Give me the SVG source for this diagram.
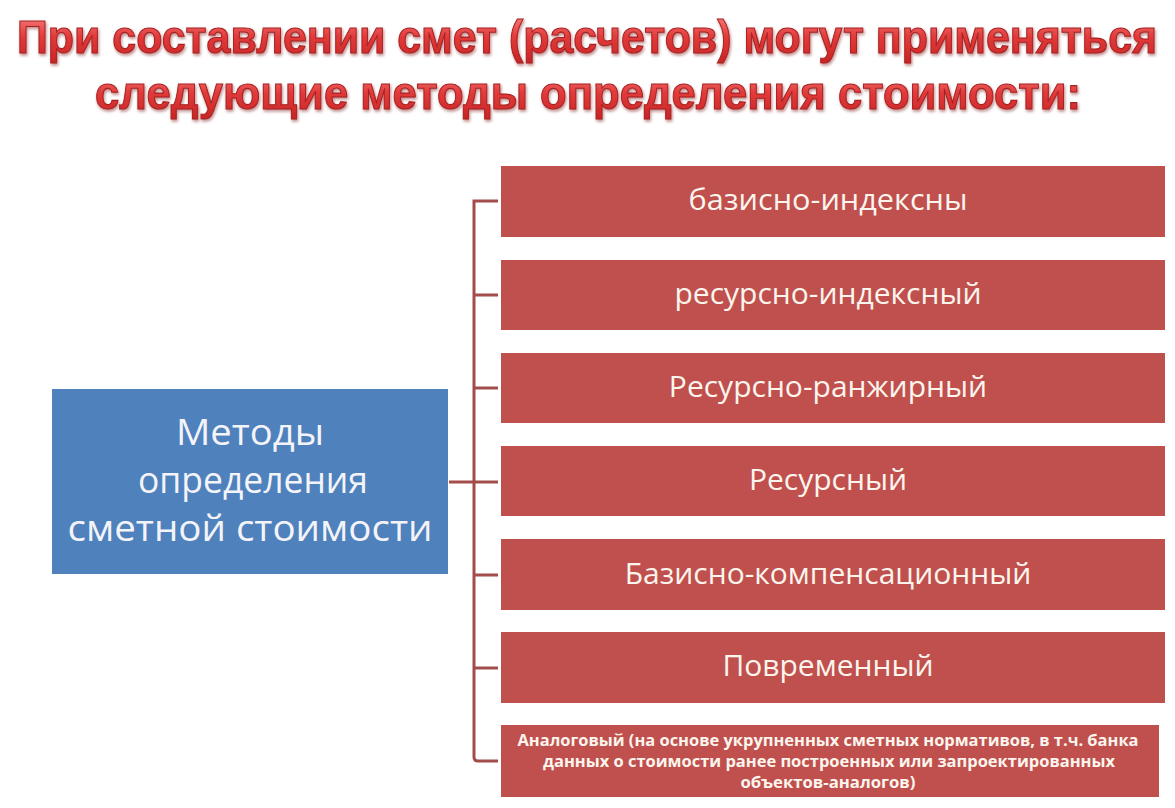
<svg xmlns="http://www.w3.org/2000/svg" width="1175" height="808" viewBox="0 0 1175 808">
<style>
.title{font-family:"Liberation Sans",Arial,sans-serif;font-weight:bold;font-size:39px;fill:url(#tg);stroke:#a82222;stroke-width:0.9;text-anchor:middle}
.rb{fill:#c0504d}
.bb{fill:#4f81bd}
.rt{font-family:"Open Sans","Liberation Sans",sans-serif;font-size:30px;fill:#fbf5ee;text-anchor:middle}
.bt{font-family:"Open Sans","Liberation Sans",sans-serif;font-size:37px;fill:#f4f4f8;text-anchor:middle}
.st{font-family:"Open Sans","Liberation Sans",sans-serif;font-weight:bold;font-size:16px;fill:#fbf5ee;text-anchor:middle}
.cn{stroke:#a34d4b;stroke-width:3;fill:none}
</style>
<defs>
<linearGradient id="tg" x1="0" y1="0" x2="0" y2="1">
<stop offset="0" stop-color="#f78a8a"/>
<stop offset="0.5" stop-color="#e23a3a"/>
<stop offset="1" stop-color="#c82424"/>
</linearGradient>
<filter id="sh" filterUnits="userSpaceOnUse" x="0" y="0" width="1175" height="140">
<feDropShadow dx="1" dy="2" stdDeviation="1.5" flood-color="#7a1010" flood-opacity="0.5"/>
</filter>
</defs>
<rect width="1175" height="808" fill="#ffffff"/>
<g id="title" filter="url(#sh)">
<g transform="translate(587,53) scale(1,1.18)"><text class="title" x="0" y="0" textLength="1140" lengthAdjust="spacingAndGlyphs">При составлении смет (расчетов) могут применяться</text></g>
<g transform="translate(588,109) scale(1,1.18)"><text class="title" x="0" y="0" textLength="986" lengthAdjust="spacingAndGlyphs">следующие методы определения стоимости:</text></g>
</g>
<g id="connectors">
<path class="cn" d="M449 482 H498"/>
<path class="cn" d="M498 201 H474 V757 Q474 761 478 761 H498"/>
<path class="cn" d="M474 295 H498 M474 388 H498 M474 575 H498 M474 668 H498"/>
</g>
<g id="root">
<rect class="bb" x="52" y="389" width="396" height="185"/>
<text class="bt" x="250" y="445" textLength="148" lengthAdjust="spacingAndGlyphs">Методы</text>
<text class="bt" x="253" y="493" textLength="230" lengthAdjust="spacingAndGlyphs">определения</text>
<text class="bt" x="250" y="541" textLength="365" lengthAdjust="spacingAndGlyphs">сметной стоимости</text>
</g>
<g id="m1"><rect class="rb" x="501" y="166" width="664" height="71"/><text class="rt" x="828" y="210" textLength="279" lengthAdjust="spacingAndGlyphs">базисно-индексны</text></g>
<g id="m2"><rect class="rb" x="501" y="260" width="664" height="70"/><text class="rt" x="828" y="304">ресурсно-индексный</text></g>
<g id="m3"><rect class="rb" x="501" y="353" width="664" height="70"/><text class="rt" x="828" y="397">Ресурсно-ранжирный</text></g>
<g id="m4"><rect class="rb" x="501" y="446" width="664" height="70"/><text class="rt" x="828" y="490">Ресурсный</text></g>
<g id="m5"><rect class="rb" x="501" y="539" width="664" height="71"/><text class="rt" x="828" y="584">Базисно-компенсационный</text></g>
<g id="m6"><rect class="rb" x="501" y="632" width="664" height="71"/><text class="rt" x="828" y="676">Повременный</text></g>
<g id="m7"><rect class="rb" x="501" y="725" width="658" height="72"/>
<text class="st" x="828" y="746" textLength="621" lengthAdjust="spacingAndGlyphs">Аналоговый (на основе укрупненных сметных нормативов, в т.ч. банка</text>
<text class="st" x="829" y="767" textLength="572" lengthAdjust="spacingAndGlyphs">данных о стоимости ранее построенных или запроектированных</text>
<text class="st" x="828" y="788" textLength="175" lengthAdjust="spacingAndGlyphs">объектов-аналогов)</text>
</g>
</svg>
